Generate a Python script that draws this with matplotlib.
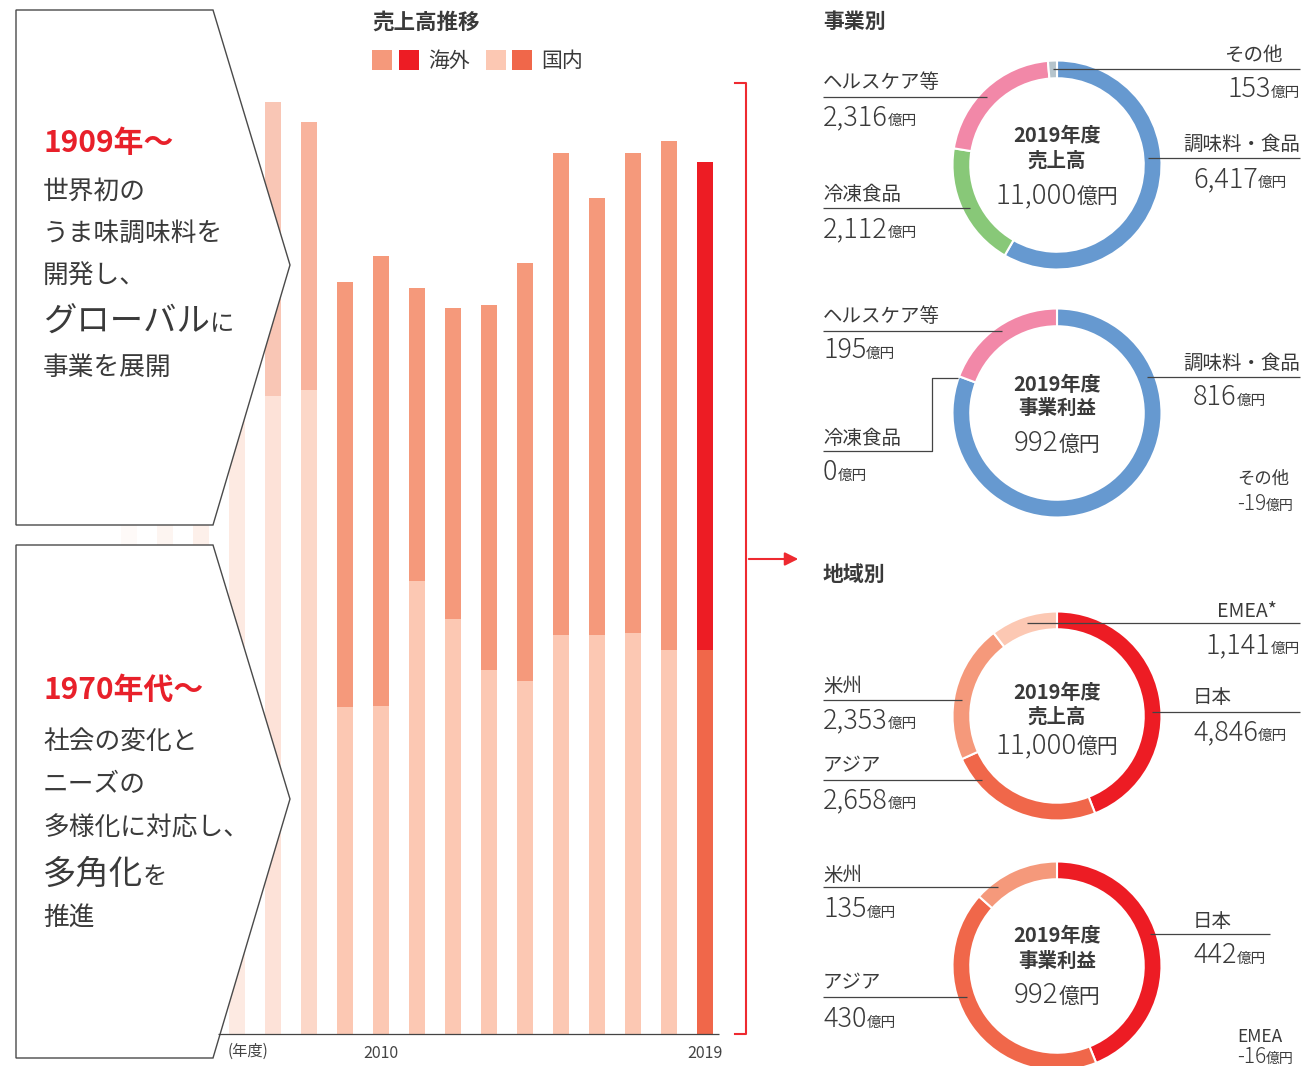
import matplotlib
matplotlib.use("Agg")
import matplotlib.pyplot as plt
from matplotlib.patches import Polygon, Rectangle

plt.rcParams['font.family'] = ['Noto Sans CJK JP', 'DejaVu Sans']

INK = '#3a3a3a'
RED = '#e8202a'

# 売上高推移 (億円)
years = list(range(2003, 2020))
domestic = [8000, 8000, 8050, 8050, 8050, 8130, 4120, 4140, 5710, 5230,
            4590, 4450, 5030, 5030, 5060, 4840, 4846]
overseas = [3400, 3450, 3500, 3500, 3710, 3370, 5370, 5670, 3700, 3930,
            4600, 5280, 6080, 5510, 6050, 6420, 6154]
dom_colors = ['#fefaf8', '#fdf5f1', '#fdf0ea', '#fdeae2', '#fde2d8', '#fcd7c8'] + \
             ['#fcc8b3'] * 10 + ['#f0674a']
ovs_colors = ['#fefaf8', '#fdf5f1', '#fdf0ea', '#fdeae2', '#f9c6b5', '#f8b39d'] + \
             ['#f5997b'] * 10 + ['#ed1c24']
tick_years = [2010, 2019]

# 事業別
biz_labels = ['調味料・食品', '冷凍食品', 'ヘルスケア等', 'その他']
biz_sales = [6417, 2112, 2316, 153]
biz_profit = [816, 0, 195, -19]
biz_colors = ['#6699d0', '#88c878', '#f288a8', '#b5c4cc']

# 地域別
reg_labels = ['日本', 'アジア', '米州', 'EMEA']
reg_sales = [4846, 2658, 2353, 1141]
reg_profit = [442, 430, 135, -16]
reg_colors = ['#ed1c24', '#f0674a', '#f5997b', '#fcc8b3']

W, H = 1304, 1066
fig = plt.figure(figsize=(W / 100, H / 100), dpi=100)
fig.patch.set_facecolor('white')

# ---- bar chart ----
base_y = 1034
bx = fig.add_axes([93 / W, (H - base_y) / H, (741 - 93) / W, base_y / H])
bx.set_zorder(1)
bx.bar(years, domestic, width=0.44, color=dom_colors)
bx.bar(years, overseas, width=0.44, bottom=domestic, color=ovs_colors)
bx.set_xlim(2002, 2020)
bx.set_ylim(0, 11000 * base_y / 872)
bx.set_xticks(tick_years)
bx.set_xticklabels([str(y) for y in tick_years])
bx.tick_params(axis='x', length=0, pad=8, labelsize=11.5, labelcolor='#444')
bx.set_yticks([])
for s in bx.spines.values():
    s.set_visible(False)
bx.patch.set_alpha(0)

# ---- overlay in pixel coordinates ----
ov = fig.add_axes([0, 0, 1, 1])
ov.set_zorder(5)
ov.set_xlim(0, W)
ov.set_ylim(H, 0)
ov.axis('off')
ov.patch.set_alpha(0)

renderer = fig.canvas.get_renderer()


def rich(x, y, parts, ha='left', color=INK):
    texts = []
    cx = x
    for s, size, weight in parts:
        t = ov.text(cx, y, s, fontsize=size, fontweight=weight, color=color,
                    ha='left', va='baseline')
        cx += t.get_window_extent(renderer).width
        texts.append(t)
    total = cx - x
    shift = {'left': 0, 'right': total, 'center': total / 2}[ha]
    for t in texts:
        px, py = t.get_position()
        t.set_position((px - shift, py))


def line(xs, ys):
    ov.plot(xs, ys, color='#444', lw=0.9, solid_capstyle='butt')


# arrow boxes
for pts in ([(16, 10), (213, 10), (290, 265), (213, 525), (16, 525)],
            [(16, 545), (213, 545), (290, 799), (213, 1058), (16, 1058)]):
    ov.add_patch(Polygon(pts, closed=True, facecolor='white', edgecolor='#4a4a4a', lw=1.0))

line([218, 719], [base_y, base_y])
ov.text(228, 1056, '(年度)', fontsize=11, color='#444', va='baseline')

BODY, BIG, SMALL = 18.5, 24, 17.5
rich(43, 152, [('1909年〜', 21.5, 'bold')], color=RED)
rich(43, 199, [('世界初の', BODY, 'normal')])
rich(43, 241, [('うま味調味料を', BODY, 'normal')])
rich(43, 284, [('開発し、', BODY, 'normal')])
rich(43, 331, [('グローバル', BIG, 'normal'), ('に', SMALL, 'normal')])
rich(43, 375, [('事業を展開', BODY, 'normal')])

rich(43, 699, [('1970年代〜', 21.5, 'bold')], color=RED)
rich(43, 749, [('社会の変化と', BODY, 'normal')])
rich(43, 792, [('ニーズの', BODY, 'normal')])
rich(43, 835, [('多様化に対応し、', BODY, 'normal')])
rich(43, 884, [('多角化', BIG, 'normal'), ('を', SMALL, 'normal')])
rich(43, 926, [('推進', BODY, 'normal')])

# title & legend
rich(372, 29, [('売上高推移', 15.5, 'bold')])
for x0, c in [(372, ovs_colors[-2]), (399, ovs_colors[-1]),
              (486, dom_colors[-2]), (512, dom_colors[-1])]:
    ov.add_patch(Rectangle((x0, 50), 20, 20, facecolor=c, edgecolor='none'))
rich(428, 67, [('海外', 15, 'normal')])
rich(541, 67, [('国内', 15, 'normal')])

# bracket and arrow
BR = '#ee2a30'
ov.plot([735, 746, 746, 735], [83, 83, base_y, base_y], color=BR, lw=1.5)
ov.annotate('', xy=(801, 559), xytext=(746, 559),
            arrowprops=dict(arrowstyle='-|>', color=BR, lw=1.5, mutation_scale=20))

rich(823, 28, [('事業別', 15, 'bold')])
rich(823, 581, [('地域別', 15, 'bold')])


# ---- donuts ----
def donut(cy, values, colors):
    half = 115
    ax = fig.add_axes([(1057 - half) / W, (H - cy - half) / H, 2 * half / W, 2 * half / H])
    ax.set_zorder(3)
    vals = [v for v in values if v > 0]
    cols = [c for v, c in zip(values, colors) if v > 0]
    ax.pie(vals, colors=cols, startangle=90, counterclock=False, radius=1,
           wedgeprops=dict(width=0.17, edgecolor='white', linewidth=1.5))
    lim = half / 104.5
    ax.set_xlim(-lim, lim)
    ax.set_ylim(-lim, lim)
    ax.set_aspect('equal')
    ax.axis('off')


NUM, UNIT, LAB = 19.5, 10.5, 14


def value(x, y, v, ha='left', num=NUM, unit=UNIT):
    rich(x, y, [(f'{v:,}', num, 'light'), ('億円', unit, 'normal')], ha=ha)


def center(y1, y2, y3, title, total):
    rich(1057, y1, [('2019年度', 14.5, 'bold')], ha='center')
    rich(1057, y2, [(title, 14, 'bold')], ha='center')
    rich(1057, y3, [(f'{total:,}', 20, 'light'), ('億円', 15, 'normal')], ha='center')


# 事業別 売上高
donut(165, biz_sales, biz_colors)
center(142, 167, 203, '売上高', 11000)
rich(1283, 61, [(biz_labels[3], LAB, 'normal')], ha='right')
line([1053, 1300], [69, 69])
value(1300, 97, biz_sales[3], ha='right')
rich(823, 88, [(biz_labels[2], LAB, 'normal')])
line([823, 987], [97, 97])
value(823, 125, biz_sales[2])
rich(1300, 150, [(biz_labels[0], LAB, 'normal')], ha='right')
line([1148, 1300], [158, 158])
value(1193, 187, biz_sales[0])
rich(823, 200, [(biz_labels[1], LAB, 'normal')])
line([823, 970], [208, 208])
value(823, 237, biz_sales[1])

# 事業別 事業利益
donut(413, biz_profit, biz_colors)
center(391, 414, 451, '事業利益', 992)
rich(823, 322, [(biz_labels[2], LAB, 'normal')])
line([823, 1002], [331, 331])
value(823, 358, biz_profit[2])
rich(1300, 369, [(biz_labels[0], LAB, 'normal')], ha='right')
line([1147, 1300], [377, 377])
value(1193, 405, biz_profit[0])
rich(823, 444, [(biz_labels[1], LAB, 'normal')])
line([823, 932, 932, 958], [451, 451, 378, 378])
value(823, 480, biz_profit[1])
rich(1237, 484, [(biz_labels[3], 12.5, 'normal')])
value(1237, 510, biz_profit[3], num=15, unit=10)

# 地域別 売上高
donut(716, reg_sales, reg_colors)
center(699, 723, 753, '売上高', 11000)
rich(1277, 617, [(reg_labels[3] + '*', LAB, 'normal')], ha='right')
line([1027, 1300], [623, 623])
value(1300, 653, reg_sales[3], ha='right')
rich(823, 692, [(reg_labels[2], LAB, 'normal')])
line([823, 962], [700, 700])
value(823, 728, reg_sales[2])
rich(1193, 703, [(reg_labels[0], LAB, 'normal')])
line([1152, 1300], [712, 712])
value(1193, 740, reg_sales[0])
rich(823, 771, [(reg_labels[1], LAB, 'normal')])
line([823, 982], [780, 780])
value(823, 808, reg_sales[1])

# 地域別 事業利益
donut(966, reg_profit, reg_colors)
center(942, 967, 1003, '事業利益', 992)
rich(823, 881, [(reg_labels[2], LAB, 'normal')])
line([823, 998], [887, 887])
value(823, 917, reg_profit[2])
rich(1193, 927, [(reg_labels[0], LAB, 'normal')])
line([1150, 1270], [934, 934])
value(1193, 963, reg_profit[0])
rich(823, 988, [(reg_labels[1], LAB, 'normal')])
line([823, 967], [997, 997])
value(823, 1027, reg_profit[1])
rich(1237, 1042, [(reg_labels[3], 12.5, 'normal')])
value(1237, 1063, reg_profit[3], num=15, unit=10)

fig.savefig('out.png', dpi=100, facecolor='white')
